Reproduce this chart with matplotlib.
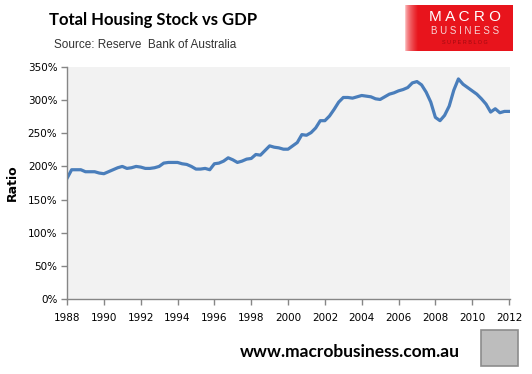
import numpy as np
import matplotlib
matplotlib.use("Agg")
import matplotlib.pyplot as plt
from matplotlib.patches import Rectangle
from matplotlib.ticker import FuncFormatter

# quarterly housing stock / GDP ratio (%), Mar-1988 .. Mar-2012
ratio = [
    182, 195, 195, 195, 192, 192, 192, 190,   # 1988-89
    189, 192, 195, 198, 200, 197, 198, 200,   # 1990-91
    199, 197, 197, 198, 200, 205, 206, 206,   # 1992-93
    206, 204, 203, 200, 196, 196, 197, 195,   # 1994-95
    204, 205, 208, 213, 210, 206, 208, 211,   # 1996-97
    212, 218, 217, 224, 231, 229, 228, 226,   # 1998-99
    226, 231, 236, 248, 247, 251, 258, 269,   # 2000-01
    269, 276, 286, 297, 304, 304, 303, 305,   # 2002-03
    307, 306, 305, 302, 301, 305, 309, 311,   # 2004-05
    314, 316, 319, 326, 328, 323, 312, 297,   # 2006-07
    274, 269, 277, 291, 315, 332, 324, 319,   # 2008-09
    314, 309, 302, 294, 282, 287, 281, 283,   # 2010-11
    283,                                      # 2012
]
years = 1988 + np.arange(len(ratio)) * 0.25
xticks = list(range(1988, 2013, 2))
yticks = list(range(0, 351, 50))

fig = plt.figure(figsize=(5.32, 3.74), dpi=100)
ax = fig.add_axes([0.126, 0.2005, 0.8326, 0.6204])
ax.set_facecolor('#F2F2F2')
ax.plot(years, ratio, color='#4A7EBB', lw=2.3, solid_joinstyle='round')

ax.set_xlim(1988, 2012.05)
ax.set_ylim(0, 350)
ax.set_xticks(xticks)
ax.set_yticks(yticks)
ax.yaxis.set_major_formatter(FuncFormatter(lambda v, p: '%d%%' % v))
for s in ['top', 'right']:
    ax.spines[s].set_visible(False)
for s in ['left', 'bottom']:
    ax.spines[s].set_color('#868686')
    ax.spines[s].set_linewidth(1.0)
ax.tick_params(axis='both', colors='#868686', labelcolor='black',
               labelsize=7.5, length=4, width=1.0, direction='out')
ax.tick_params(axis='x', pad=6)
ax.tick_params(axis='y', pad=3)
ax.set_ylabel('Ratio', fontsize=9, fontweight='bold', labelpad=6)

# titles
fig.text(49 / 532, 1 - 20 / 374, 'Total Housing Stock vs GDP', fontsize=12,
         fontweight='bold', family='Lato', va='center', ha='left')
fig.text(54 / 532, 1 - 45 / 374, 'Source: Reserve  Bank of Australia', fontsize=8.5,
         family='Liberation Sans', color='#333333', va='center', ha='left')

# logo box with a short light fade on its left edge
n = 400
grad = np.clip(np.linspace(0, 1, n) / 0.12, 0, 1) ** 0.5
img = np.ones((2, n, 3))
red = np.array([0.91, 0.08, 0.11])
light = np.array([1.0, 0.88, 0.88])
img[:] = (1 - grad)[:, None] * light + grad[:, None] * red
lax = fig.add_axes([405 / 532, 1 - 51 / 374, 108 / 532, 46 / 374])
lax.imshow(img, aspect='auto', extent=(0, 1, 0, 1), interpolation='bilinear')
lax.axis('off')
fig.text(465 / 532, 1 - 17 / 374, 'M A C R O', fontsize=11, color='white',
         family='Liberation Sans', ha='center', va='center')
fig.text(465 / 532, 1 - 31 / 374, 'B U S I N E S S', fontsize=7, color='#F6D6D6',
         family='Liberation Sans', ha='center', va='center')
fig.text(465 / 532, 1 - 42 / 374, 'S U P E R B L O G', fontsize=4, color='#A00A10',
         family='Liberation Sans', ha='center', va='center')

# footer
fig.text(460 / 532, 1 - 352 / 374, 'www.macrobusiness.com.au', fontsize=12.5,
         fontweight='bold', family='Lato', ha='right', va='center')
fig.patches.append(Rectangle((481 / 532, 1 - 366 / 374), 37 / 532, 36 / 374,
                             transform=fig.transFigure, facecolor='#BDBDBD',
                             edgecolor='#8C8C8C', lw=1.2))

fig.savefig('out.png', dpi=100)
